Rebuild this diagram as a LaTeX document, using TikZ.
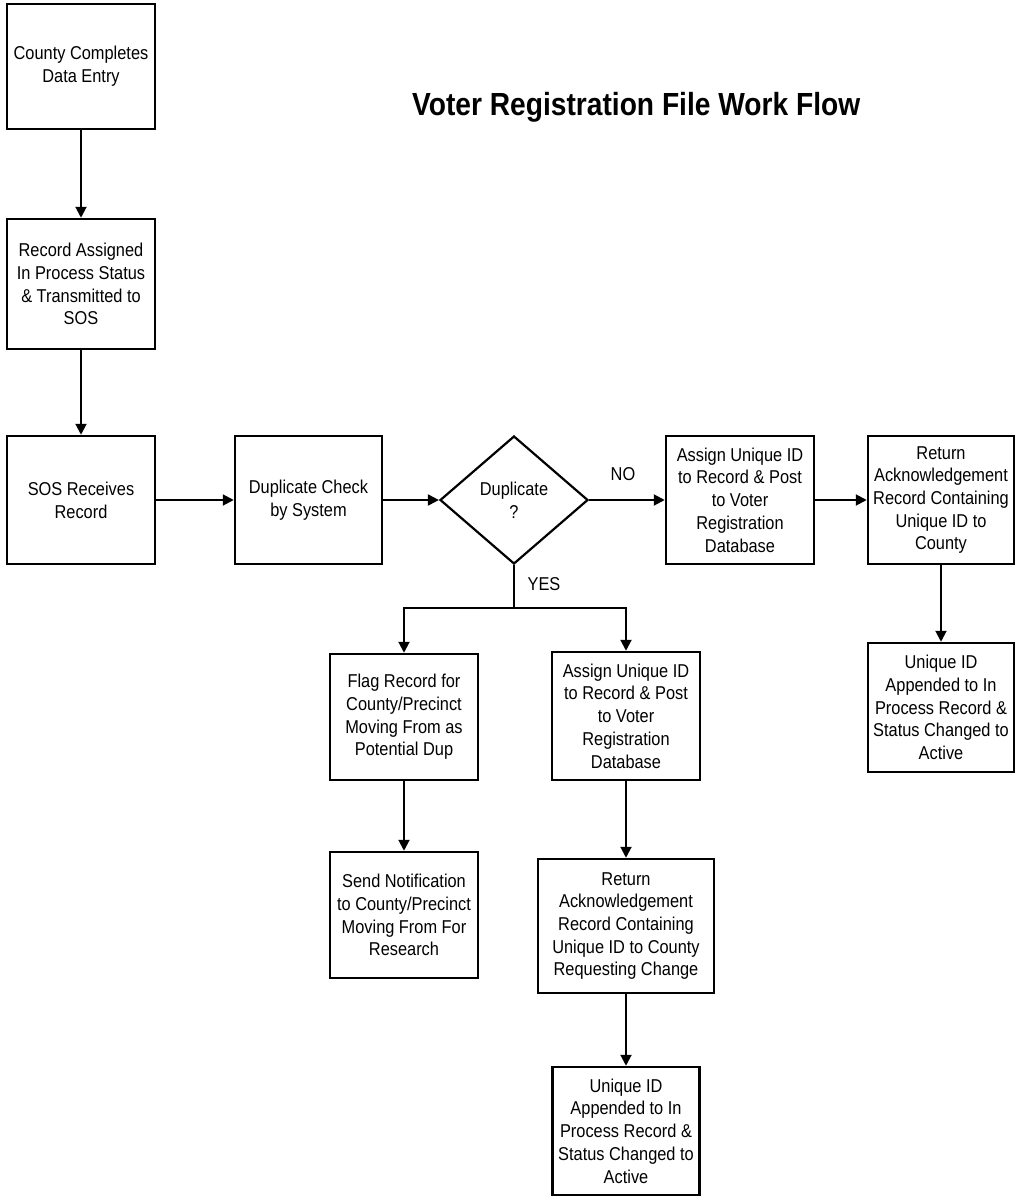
\documentclass[tikz,border=0pt]{standalone}
\usepackage{fontspec}
\setmainfont{Liberation Sans}[FakeStretch=0.88]
\usetikzlibrary{shapes.geometric,arrows.meta}
\tikzset{
  procbox/.style={draw=black, line width=2.5pt, rectangle, align=center, inner sep=1pt,
    font=\fontsize{18.6}{22.7}\selectfont},
  decision/.style={draw=black, line width=2.2pt, diamond, align=center, inner sep=0pt,
    font=\fontsize{18.6}{22.7}\selectfont},
  flowarrow/.style={line width=2pt, -{Triangle[length=11pt,width=11pt]}},
  flowline/.style={line width=2pt},
  lbl/.style={font=\fontsize{18.6}{22.7}\selectfont, inner sep=0pt},
}
\begin{document}
\begin{tikzpicture}[x=1pt,y=-1pt]
\useasboundingbox[fill=white] (0,0) rectangle (1016,1197);

\node[anchor=base west, inner sep=0pt, font=\fontsize{32}{38}\selectfont\bfseries] (title) at (412,115) {Voter Registration File Work Flow};

\node[procbox, minimum width=148pt, minimum height=125pt] (b1) at (81,66.5) {County Completes\\Data Entry};
\node[procbox, minimum width=148pt, minimum height=130pt] (b2) at (81,284) {Record Assigned\\In Process Status\\\& Transmitted to\\SOS};
\node[procbox, minimum width=148pt, minimum height=128pt] (b3) at (81,500) {SOS Receives\\Record};
\node[procbox, minimum width=147pt, minimum height=128pt] (b4) at (308.5,500) {Duplicate Check\\by System};
\node[decision, minimum width=148pt, minimum height=128pt] (dia) at (514,500) {Duplicate\\?};
\node[procbox, minimum width=148pt, minimum height=128pt] (b5) at (740,500) {Assign Unique ID\\to Record \& Post\\to Voter\\Registration\\Database};
\node[procbox, minimum width=146pt, minimum height=128pt] (b6) at (941,500) {Return\\Acknowledgement\\Record Containing\\Unique ID to\\County};
\node[procbox, minimum width=146pt, minimum height=129pt] (b7) at (941,707.5) {Unique ID\\Appended to In\\Process Record \&\\Status Changed to\\Active};
\node[procbox, minimum width=148pt, minimum height=126pt] (b8) at (404,717) {Flag Record for\\County/Precinct\\Moving From as\\Potential Dup};
\node[procbox, minimum width=148pt, minimum height=128pt] (b9) at (626,716) {Assign Unique ID\\to Record \& Post\\to Voter\\Registration\\Database};
\node[procbox, minimum width=148pt, minimum height=126pt] (b10) at (404,915) {Send Notification\\to County/Precinct\\Moving From For\\Research};
\node[procbox, minimum width=176pt, minimum height=134pt] (b11) at (626,926) {Return\\Acknowledgement\\Record Containing\\Unique ID to County\\Requesting Change};
\node[procbox, minimum width=147pt, minimum height=128pt] (b12) at (626,1131) {Unique ID\\Appended to In\\Process Record \&\\Status Changed to\\Active};

\coordinate (yesbar) at (514,608);

\draw[flowarrow] (b1.south) -- (b2.north);
\draw[flowarrow] (b2.south) -- (b3.north);
\draw[flowarrow] (b3.east) -- (b4.west);
\draw[flowarrow] (b4.east) -- (dia.west);
\draw[flowarrow] (dia.east) -- (b5.west);
\draw[flowarrow] (b5.east) -- (b6.west);
\draw[flowarrow] (b6.south) -- (b7.north);
\draw[flowline] (dia.south) -- (yesbar);
\draw[flowarrow] (yesbar) -| (b8.north);
\draw[flowarrow] (yesbar) -| (b9.north);
\draw[flowarrow] (b8.south) -- (b10.north);
\draw[flowarrow] (b9.south) -- (b11.north);
\draw[flowarrow] (b11.south) -- (b12.north);

\node[lbl] (nolbl) at (623,474) {NO};
\node[lbl] (yeslbl) at (544,584) {YES};
\end{tikzpicture}
\end{document}
